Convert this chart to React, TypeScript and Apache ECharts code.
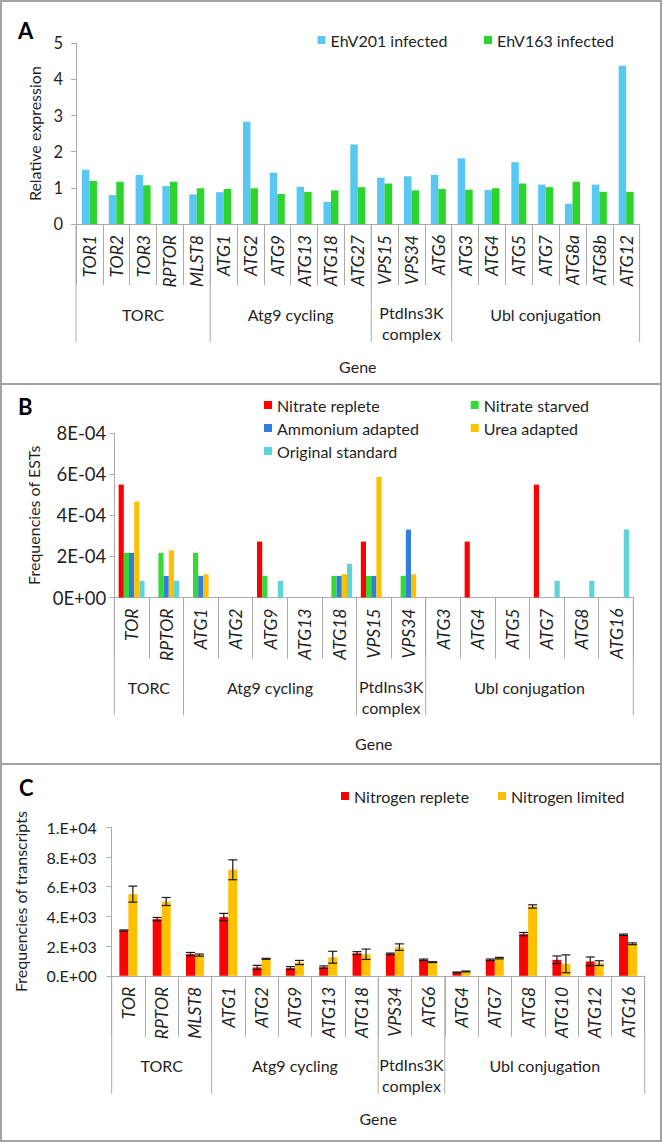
import React, { useEffect, useRef } from "react";
import * as echarts from "echarts";

// ---------- Panel A ----------
const genesA = ["TOR1","TOR2","TOR3","RPTOR","MLST8","ATG1","ATG2","ATG9","ATG13","ATG18","ATG27","VPS15","VPS34","ATG6","ATG3","ATG4","ATG5","ATG7","ATG8a","ATG8b","ATG12"];
const ehv201 = [1.50,0.80,1.36,1.05,0.82,0.88,2.83,1.42,1.03,0.61,2.20,1.28,1.32,1.36,1.82,0.94,1.71,1.09,0.56,1.09,4.38];
const ehv163 = [1.19,1.17,1.07,1.17,0.99,0.97,0.99,0.83,0.89,0.93,1.02,1.12,0.93,0.97,0.95,0.99,1.12,1.02,1.17,0.89,0.89];
const groupNamesA = ["TORC","Atg9 cycling","PtdIns3K\ncomplex","Ubl conjugation"];
const groupStartsA = [0,5,11,14];
const groupEndsA = [4,10,13,20];

// ---------- Panel B ----------
const genesB = ["TOR","RPTOR","ATG1","ATG2","ATG9","ATG13","ATG18","VPS15","VPS34","ATG3","ATG4","ATG5","ATG7","ATG8","ATG16"];
const nitrateReplete = [5.49e-4,0,0,0,2.72e-4,0,0,2.72e-4,0,0,2.72e-4,0,5.49e-4,0,0];
const nitrateStarved = [2.17e-4,2.17e-4,2.17e-4,0,1.05e-4,0,1.05e-4,1.05e-4,1.05e-4,0,0,0,0,0,0];
const ammoniumAdapted = [2.17e-4,1.05e-4,1.05e-4,0,0,0,1.05e-4,1.05e-4,3.30e-4,0,0,0,0,0,0];
const ureaAdapted = [4.66e-4,2.30e-4,1.13e-4,0,0,0,1.13e-4,5.86e-4,1.13e-4,0,0,0,0,0,0];
const originalStandard = [0.81e-4,0.81e-4,0,0,0.81e-4,0,1.64e-4,0,0,0,0,0,0.81e-4,0.81e-4,3.31e-4];
const groupNamesB = ["TORC","Atg9 cycling","PtdIns3K\ncomplex","Ubl conjugation"];
const groupStartsB = [0,2,7,9];
const groupEndsB = [1,6,8,14];

// ---------- Panel C ----------
const genesC = ["TOR","RPTOR","MLST8","ATG1","ATG2","ATG9","ATG13","ATG18","VPS34","ATG6","ATG4","ATG7","ATG8","ATG10","ATG12","ATG16"];
const nitrogenReplete = [3050,3818,1461,3953,562,517,584,1526,1481,1077,225,1077,2806,1077,966,2761];
const nitrogenRepleteErr = [40,110,110,250,140,100,80,100,50,50,30,50,110,260,300,50];
const nitrogenLimited = [5500,5003,1394,7138,1145,897,1250,1450,1930,920,292,1190,4670,808,853,2155];
const nitrogenLimitedErr = [540,270,70,670,30,140,400,350,220,30,30,50,110,600,160,60];
const groupNamesC = ["TORC","Atg9 cycling","PtdIns3K\ncomplex","Ubl conjugation"];
const groupStartsC = [0,3,8,10];
const groupEndsC = [2,7,9,15];

const FONT = "Lato";
const TEXT = "#1f1f1f";
const AXIS = "#ABABAB";
const FS = 16;

function fmtExp(v: number, dot: boolean) {
  const [m, e] = v.toExponential(0).split("e");
  const n = parseInt(e, 10);
  return m + (dot ? ".E" : "E") + (n < 0 ? "-" : "+") + String(Math.abs(n)).padStart(2, "0");
}

function groupSeries(idx: number, starts: number[], ends: number[], names: string[]) {
  return {
    type: "custom",
    xAxisIndex: idx,
    yAxisIndex: idx,
    silent: true,
    z: 1,
    data: starts.map((s, i) => [s, ends[i], 0]),
    encode: { x: 0, y: 2 },
    renderItem: (params: any, api: any) => {
      const s = api.value(0);
      const e = api.value(1);
      const band = api.size([1, 0])[0];
      const a = api.coord([s, 0]);
      const b = api.coord([e, 0]);
      const x0 = a[0] - band / 2;
      const x1 = b[0] + band / 2;
      const y0 = a[1];
      const name = names[params.dataIndex];
      const two = name.indexOf("\n") >= 0;
      const children: any[] = [
        { type: "line", shape: { x1: x0, y1: y0, x2: x0, y2: y0 + 118 }, style: { stroke: AXIS, lineWidth: 1 } },
      ];
      if (params.dataIndex === starts.length - 1) {
        children.push({ type: "line", shape: { x1: x1, y1: y0, x2: x1, y2: y0 + 118 }, style: { stroke: AXIS, lineWidth: 1 } });
      }
      children.push({
        type: "text",
        style: {
          text: name,
          x: (x0 + x1) / 2,
          y: y0 + (two ? 99 : 90),
          align: "center",
          verticalAlign: "middle",
          fontFamily: FONT,
          fontSize: FS,
          lineHeight: 21,
          fill: TEXT,
        },
      });
      return { type: "group", children };
    },
  };
}

function errSeries(idx: number, vals: number[], errs: number[], sign: number) {
  return {
    type: "custom",
    xAxisIndex: idx,
    yAxisIndex: idx,
    silent: true,
    z: 5,
    data: vals.map((v, i) => [i, v - errs[i], v + errs[i]]),
    encode: { x: 0, y: [1, 2] },
    renderItem: (params: any, api: any) => {
      const i = api.value(0);
      const band = api.size([1, 0])[0];
      const lo = api.coord([i, api.value(1)]);
      const hi = api.coord([i, api.value(2)]);
      const x = lo[0] + sign * band * 0.135;
      const w = 4.5;
      const st = { stroke: "#1a1a1a", lineWidth: 1.2 };
      return {
        type: "group",
        children: [
          { type: "line", shape: { x1: x, y1: lo[1], x2: x, y2: hi[1] }, style: st },
          { type: "line", shape: { x1: x - w, y1: lo[1], x2: x + w, y2: lo[1] }, style: st },
          { type: "line", shape: { x1: x - w, y1: hi[1], x2: x + w, y2: hi[1] }, style: st },
        ],
      };
    },
  };
}

function catAxis(idx: number, data: string[], nameGap: number) {
  return {
    type: "category",
    gridIndex: idx,
    data,
    name: "Gene",
    nameLocation: "middle",
    nameGap,
    nameTextStyle: { fontFamily: FONT, fontSize: FS, color: TEXT },
    axisLine: { show: true, lineStyle: { color: AXIS, width: 1 } },
    axisTick: { show: true, length: 61, lineStyle: { color: AXIS, width: 1 } },
    axisLabel: {
      interval: 0,
      rotate: 90,
      margin: 11,
      fontFamily: FONT,
      fontStyle: "italic",
      fontSize: 17.5,
      color: TEXT,
    },
    splitLine: { show: false },
  };
}

function valAxis(idx: number, max: number, interval: number, name: string, nameGap: number, margin: number, labelSize: number, fmt?: (v: number) => string) {
  return {
    type: "value",
    gridIndex: idx,
    min: 0,
    max,
    interval,
    name,
    nameLocation: "middle",
    nameRotate: 90,
    nameGap,
    nameTextStyle: { fontFamily: FONT, fontSize: FS, color: TEXT },
    axisLine: { show: true, lineStyle: { color: AXIS, width: 1 } },
    axisTick: { show: true, length: 5, lineStyle: { color: AXIS } },
    splitLine: { show: false },
    axisLabel: { margin, fontFamily: FONT, fontSize: labelSize, color: TEXT, formatter: fmt },
  };
}

function legend(name: string, left: number, top: number) {
  return {
    data: [name],
    left,
    top,
    orient: "vertical",
    icon: "rect",
    itemWidth: 8,
    itemHeight: 8,
    itemGap: 5,
    padding: 0,
    selectedMode: false,
    textStyle: { fontFamily: FONT, fontSize: FS, color: TEXT, lineHeight: 18 },
  };
}

function legendCol(names: string[], left: number, top: number) {
  const l: any = legend(names[0], left, top);
  l.data = names;
  return l;
}

function bar(name: string, idx: number, data: number[], color: string, width: string) {
  return {
    type: "bar",
    name,
    xAxisIndex: idx,
    yAxisIndex: idx,
    data,
    barWidth: width,
    barGap: "0%",
    itemStyle: { color },
    z: 3,
  };
}

const BLUE_A = "#58C8F2";
const GREEN_A = "#2ED42E";
const RED = "#FF0000";
const GREEN_B = "#35D835";
const BLUE_B = "#2F7FDB";
const YELLOW = "#FFC000";
const CYAN = "#5CD4D8";

export default function App() {
  const ref = useRef<HTMLDivElement>(null);
  useEffect(() => {
    document.body.style.margin = "0";
    if (!ref.current) return;
    const chart = echarts.init(ref.current, undefined, { renderer: "svg" });
    const option: any = {
      animation: false,
      backgroundColor: "#ffffff",
      grid: [
        { left: 76, top: 43.3, width: 563.6, height: 180.7, outerBoundsMode: "none" },
        { left: 114.3, top: 433, width: 519, height: 164.5, outerBoundsMode: "none" },
        { left: 111.7, top: 827.3, width: 533, height: 148.5, outerBoundsMode: "none" },
      ],
      xAxis: [catAxis(0, genesA, 134), catAxis(1, genesB, 138), catAxis(2, genesC, 135)],
      yAxis: [
        valAxis(0, 5, 1, "Relative expression", 32, 13, 16.5),
        valAxis(1, 8e-4, 2e-4, "Frequencies of ESTs", 68, 8, 18.5, (v: number) => fmtExp(v, false)),
        valAxis(2, 10000, 2000, "Frequencies of transcripts", 83, 15, 16, (v: number) => fmtExp(v, true)),
      ],
      legend: [
        legend("EhV201 infected", 317.5, 31),
        legend("EhV163 infected", 484, 31),
        legendCol(["Nitrate replete", "Ammonium adapted", "Original standard"], 264, 396),
        legendCol(["Nitrate starved", "Urea adapted"], 470.7, 396),
        legend("Nitrogen replete", 341, 787),
        legend("Nitrogen limited", 498, 787),
      ],
      series: [
        bar("EhV201 infected", 0, ehv201, BLUE_A, "28%"),
        bar("EhV163 infected", 0, ehv163, GREEN_A, "28%"),
        groupSeries(0, groupStartsA, groupEndsA, groupNamesA),
        bar("Nitrate replete", 1, nitrateReplete, RED, "15%"),
        bar("Nitrate starved", 1, nitrateStarved, GREEN_B, "15%"),
        bar("Ammonium adapted", 1, ammoniumAdapted, BLUE_B, "15%"),
        bar("Urea adapted", 1, ureaAdapted, YELLOW, "15%"),
        bar("Original standard", 1, originalStandard, CYAN, "15%"),
        groupSeries(1, groupStartsB, groupEndsB, groupNamesB),
        bar("Nitrogen replete", 2, nitrogenReplete, RED, "27%"),
        bar("Nitrogen limited", 2, nitrogenLimited, YELLOW, "27%"),
        errSeries(2, nitrogenReplete, nitrogenRepleteErr, -1),
        errSeries(2, nitrogenLimited, nitrogenLimitedErr, 1),
        groupSeries(2, groupStartsC, groupEndsC, groupNamesC),
      ],
      graphic: [
        { type: "rect", shape: { x: 1, y: 1, width: 660, height: 1140 }, style: { fill: "none", stroke: "#A3A3A3", lineWidth: 2 }, silent: true },
        { type: "line", shape: { x1: 1, y1: 384, x2: 661, y2: 384 }, style: { stroke: "#A3A3A3", lineWidth: 2 }, silent: true },
        { type: "line", shape: { x1: 1, y1: 764, x2: 661, y2: 764 }, style: { stroke: "#A3A3A3", lineWidth: 2 }, silent: true },
        { type: "text", x: 18, y: 30, style: { text: "A", fontFamily: FONT, fontWeight: "bold", fontSize: 22, fill: "#000", verticalAlign: "middle" } },
        { type: "text", x: 18, y: 406, style: { text: "B", fontFamily: FONT, fontWeight: "bold", fontSize: 22, fill: "#000", verticalAlign: "middle" } },
        { type: "text", x: 19, y: 787, style: { text: "C", fontFamily: FONT, fontWeight: "bold", fontSize: 22, fill: "#000", verticalAlign: "middle" } },
      ],
    };
    chart.setOption(option);
    return () => chart.dispose();
  }, []);
  return <div ref={ref} style={{ width: 662, height: 1142 }} />;
}
